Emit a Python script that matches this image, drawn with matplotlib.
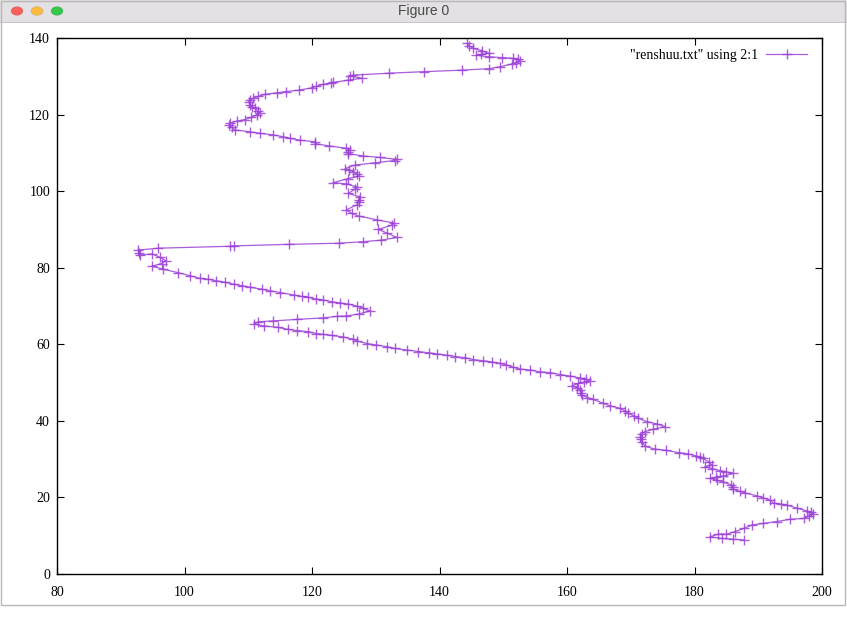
import matplotlib
matplotlib.use('Agg')
import matplotlib.pyplot as plt
from matplotlib.patches import Rectangle, Circle

# column 2 (x) and column 1 (y) of renshuu.txt
col2 = [144.3, 144.6, 145.3, 146.6, 147.7, 146.5, 145.8, 147.7, 149.8, 151.6, 152.3, 152.7, 152.0, 151.3,
        149.5, 147.8, 143.5, 137.5, 132.0, 126.5, 126.0, 127.8, 125.7, 123.3, 123.0, 121.8, 120.7, 120.0,
        118.0, 115.9, 114.5, 112.7, 111.6, 110.8, 110.2, 110.1, 110.3, 110.6, 111.1, 111.5, 111.8, 111.3,
        110.5, 109.5, 108.2, 107.1, 107.0, 107.4, 107.9, 110.3, 111.8, 113.9, 115.5, 116.5, 118.1, 120.5,
        120.5, 122.7, 125.4, 125.9, 125.7, 125.6, 128.0, 130.6, 133.3, 133.0, 129.9, 126.7, 125.2, 125.8,
        126.5, 127.0, 127.3, 125.7, 123.3, 125.4, 127.0, 126.8, 125.7, 127.5, 127.3, 127.3, 127.1, 125.4,
        126.2, 127.3, 130.2, 132.8, 132.5, 130.4, 131.7, 133.3, 130.9, 128.0, 124.3, 116.4, 107.7, 107.2,
        95.9, 92.7, 92.9, 93.0, 94.9, 96.2, 97.1, 96.4, 94.9, 96.7, 99.0, 100.9, 102.4, 103.7,
        105.0, 106.4, 107.7, 109.0, 110.3, 112.1, 113.4, 115.0, 117.1, 118.4, 119.4, 120.7, 121.7, 123.1,
        124.4, 125.7, 127.0, 128.0, 129.1, 127.3, 125.4, 123.9, 121.8, 117.6, 113.9, 111.6, 110.9, 112.4,
        114.7, 116.2, 117.6, 119.4, 120.7, 121.7, 123.1, 124.9, 126.5, 127.0, 128.6, 130.1, 131.7, 133.0,
        134.9, 136.7, 138.3, 139.6, 141.2, 142.5, 144.0, 145.3, 146.9, 148.2, 149.5, 150.5, 151.6, 152.7,
        154.2, 155.8, 157.3, 158.9, 160.5, 162.1, 163.0, 163.6, 162.6, 161.8, 160.8, 161.6, 162.0, 162.2,
        162.3, 163.2, 164.1, 165.7, 166.8, 168.3, 169.1, 169.6, 170.5, 171.2, 172.5, 174.1, 175.4, 173.5,
        172.2, 171.7, 171.5, 171.6, 171.8, 172.2, 173.8, 175.6, 177.5, 179.0, 180.3, 180.9, 181.3, 182.2,
        182.7, 181.6, 182.8, 184.0, 185.0, 186.1, 184.5, 183.4, 182.4, 183.5, 184.5, 185.8, 186.0, 186.1,
        187.1, 187.9, 189.8, 190.8, 191.8, 192.4, 193.5, 194.5, 196.1, 197.6, 198.2, 198.6, 198.0, 197.1,
        195.0, 192.9, 190.8, 189.0, 187.7, 186.4, 185.0, 183.7, 182.4, 184.3, 186.1, 187.7]
col1 = [138.6, 138.0, 137.3, 136.7, 136.0, 135.7, 135.5, 135.1, 134.9, 134.7, 134.4, 134.0, 133.6, 133.2,
        132.5, 132.0, 131.6, 131.2, 130.8, 130.3, 130.1, 129.5, 129.0, 128.4, 128.2, 127.9, 127.4, 127.0,
        126.4, 126.0, 125.7, 125.3, 124.8, 124.2, 123.8, 123.4, 122.5, 122.1, 121.6, 121.0, 120.5, 119.9,
        119.3, 118.7, 118.3, 117.7, 117.2, 116.7, 116.0, 115.5, 115.1, 114.7, 114.2, 113.8, 113.3, 112.9,
        112.4, 111.8, 111.2, 110.8, 110.3, 109.8, 109.2, 108.8, 108.3, 108.0, 107.4, 106.8, 105.9, 105.5,
        105.1, 104.5, 103.9, 103.3, 102.2, 101.9, 101.1, 100.6, 99.4, 98.5, 97.8, 97.2, 96.5, 95.1,
        94.2, 93.5, 92.5, 91.7, 91.1, 90.0, 89.1, 87.9, 87.2, 86.8, 86.4, 86.1, 85.7, 85.6,
        85.1, 84.6, 83.9, 83.3, 83.6, 82.7, 81.8, 81.1, 80.4, 79.6, 78.7, 77.9, 77.2, 77.0,
        76.6, 76.2, 75.7, 75.3, 74.9, 74.4, 74.0, 73.5, 72.9, 72.5, 72.3, 71.8, 71.6, 71.1,
        70.8, 70.5, 70.0, 69.4, 68.7, 67.9, 67.4, 67.3, 66.9, 66.5, 66.1, 65.9, 65.3, 64.8,
        64.4, 63.9, 63.6, 63.3, 62.8, 62.6, 62.3, 61.9, 61.3, 60.9, 60.2, 59.8, 59.4, 58.9,
        58.5, 58.1, 57.8, 57.5, 57.1, 56.8, 56.5, 56.0, 55.7, 55.4, 55.0, 54.6, 54.0, 53.5,
        53.3, 52.8, 52.6, 52.1, 51.7, 51.2, 50.9, 50.5, 50.1, 49.8, 49.2, 48.6, 48.1, 47.4,
        46.7, 46.1, 45.6, 44.6, 43.9, 43.3, 42.6, 42.0, 41.3, 40.7, 39.8, 39.2, 38.5, 37.8,
        37.2, 36.5, 35.9, 35.2, 34.6, 33.4, 32.6, 32.3, 31.7, 31.4, 30.8, 30.6, 30.2, 29.3,
        28.5, 28.0, 27.5, 27.0, 26.7, 26.3, 25.6, 25.3, 25.0, 24.5, 24.1, 23.2, 22.6, 22.1,
        21.6, 21.2, 20.4, 19.9, 19.3, 18.5, 18.3, 18.0, 17.2, 16.5, 16.1, 15.7, 15.1, 14.5,
        14.3, 13.7, 13.2, 12.8, 11.9, 11.1, 10.4, 10.4, 9.7, 9.3, 9.1, 8.9]

x_ticks = [80, 100, 120, 140, 160, 180, 200]
y_ticks = [0, 20, 40, 60, 80, 100, 120, 140]
window_title = 'Figure 0'
series_label = '"renshuu.txt" using 2:1'

plt.rcParams['font.family'] = ['Liberation Serif', 'DejaVu Serif']

W, H = 847, 619
fig = plt.figure(figsize=(W / 100, H / 100), dpi=100)
fig.patch.set_facecolor('white')

# window chrome: title bar, buttons, border
fig.patches.append(Rectangle((0, (H - 22) / H), 1, 22 / H, transform=fig.transFigure,
                             facecolor='#e3e1e3', edgecolor='none', zorder=0))
fig.patches.append(Rectangle((0, (H - 23) / H), 1, 1 / H, transform=fig.transFigure,
                             facecolor='#c8c6c8', edgecolor='none', zorder=0))
fig.patches.append(Rectangle((0.5 / W, 14 / H), (W - 3) / W, (H - 14.5) / H, transform=fig.transFigure,
                             facecolor='none', edgecolor='#b8b8b8', lw=1, zorder=0))
for cx, fc in [(17, '#fc605b'), (37, '#fdbc40'), (57, '#34c84a')]:
    fig.patches.append(Circle((cx / W, (H - 11) / H), 6 / W, transform=fig.transFigure,
                              facecolor=fc, edgecolor='#00000020', lw=0.5, zorder=1))
fig.text(424 / W, (H - 11) / H, window_title, ha='center', va='center', fontsize=10,
         family=['Liberation Sans', 'DejaVu Sans'], color='#4a4a4a')

ax = fig.add_axes([57 / W, (H - 574) / H, 765 / W, 536 / H])
ax.plot(col2, col1, color='#9b3fd6', lw=0.9, marker='+', markersize=6.5, mew=1.0,
        alpha=0.85, label=series_label)

ax.set_xlim(80, 200)
ax.set_ylim(0, 140)
ax.set_xticks(x_ticks)
ax.set_yticks(y_ticks)
ax.tick_params(direction='in', length=5, width=0.8, top=True, right=True, labelsize=10,
               colors='black')
ax.tick_params(axis='x', pad=9)
ax.tick_params(axis='y', pad=5)
for s in ax.spines.values():
    s.set_linewidth(1.0)

leg = ax.legend(loc='center right', bbox_to_anchor=(0.981, 0.968), frameon=False,
                markerfirst=False, fontsize=10, handlelength=2.95, borderpad=0,
                borderaxespad=0, handletextpad=0.58)

fig.savefig('out.png', dpi=100)
